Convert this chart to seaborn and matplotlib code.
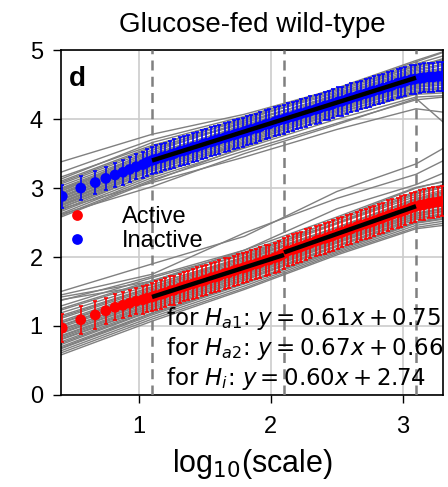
import numpy as np
import pandas as pd
import matplotlib
matplotlib.use("Agg")
import matplotlib.pyplot as plt
import seaborn as sns

# ---- mean curves (log10 scale vs. log10 fluctuation) ----
log_scale = [
    0.42, 0.56, 0.67, 0.75, 0.82, 0.88, 0.93, 0.98, 1.03, 1.06,
    1.10, 1.13, 1.17, 1.20, 1.24, 1.27, 1.31, 1.34, 1.37, 1.41,
    1.44, 1.48, 1.51, 1.55, 1.58, 1.61, 1.65, 1.68, 1.72, 1.75,
    1.79, 1.82, 1.85, 1.89, 1.92, 1.96, 1.99, 2.03, 2.06, 2.10,
    2.13, 2.17, 2.20, 2.23, 2.27, 2.30, 2.34, 2.37, 2.41, 2.44,
    2.47, 2.51, 2.54, 2.58, 2.61, 2.65, 2.68, 2.72, 2.75, 2.78,
    2.82, 2.85, 2.89, 2.92, 2.96, 2.99, 3.02, 3.06, 3.09, 3.13,
    3.16, 3.20, 3.23, 3.27, 3.30,
]

active_mean = [
    0.97, 1.09, 1.16, 1.22, 1.27, 1.30, 1.33, 1.36, 1.38, 1.40,
    1.42, 1.44, 1.46, 1.48, 1.51, 1.52, 1.55, 1.57, 1.59, 1.61,
    1.63, 1.65, 1.67, 1.70, 1.71, 1.73, 1.76, 1.77, 1.80, 1.82,
    1.84, 1.86, 1.88, 1.90, 1.92, 1.95, 1.96, 1.99, 2.01, 2.05,
    2.09, 2.11, 2.13, 2.15, 2.18, 2.20, 2.23, 2.25, 2.27, 2.29,
    2.31, 2.34, 2.36, 2.39, 2.41, 2.44, 2.46, 2.48, 2.50, 2.52,
    2.55, 2.57, 2.60, 2.62, 2.64, 2.66, 2.68, 2.71, 2.73, 2.75,
    2.76, 2.78, 2.79, 2.80, 2.81,
]
active_err = [
    0.20, 0.20, 0.20, 0.19, 0.19, 0.19, 0.19, 0.19, 0.20, 0.20,
    0.20, 0.21, 0.21, 0.21, 0.21, 0.21, 0.21, 0.21, 0.21, 0.22,
    0.22, 0.22, 0.22, 0.22, 0.22, 0.22, 0.22, 0.22, 0.22, 0.22,
    0.22, 0.22, 0.22, 0.22, 0.22, 0.22, 0.22, 0.22, 0.22, 0.22,
    0.22, 0.22, 0.22, 0.22, 0.22, 0.22, 0.22, 0.22, 0.22, 0.22,
    0.22, 0.22, 0.22, 0.22, 0.22, 0.22, 0.22, 0.22, 0.22, 0.22,
    0.22, 0.22, 0.22, 0.22, 0.22, 0.22, 0.22, 0.22, 0.22, 0.22,
    0.22, 0.22, 0.22, 0.22, 0.22,
]

inactive_mean = [
    2.88, 3.00, 3.08, 3.14, 3.19, 3.23, 3.27, 3.31, 3.34, 3.37,
    3.40, 3.42, 3.44, 3.46, 3.48, 3.50, 3.53, 3.54, 3.56, 3.59,
    3.60, 3.63, 3.65, 3.67, 3.69, 3.71, 3.73, 3.75, 3.77, 3.79,
    3.81, 3.83, 3.85, 3.87, 3.89, 3.92, 3.93, 3.96, 3.98, 4.00,
    4.02, 4.04, 4.06, 4.08, 4.10, 4.12, 4.14, 4.16, 4.19, 4.20,
    4.22, 4.25, 4.26, 4.29, 4.31, 4.33, 4.35, 4.37, 4.39, 4.41,
    4.43, 4.45, 4.47, 4.49, 4.52, 4.53, 4.55, 4.57, 4.58, 4.59,
    4.60, 4.61, 4.61, 4.62, 4.62,
]
inactive_err = [
    0.17, 0.17, 0.17, 0.17, 0.17, 0.18, 0.18, 0.18, 0.19, 0.19,
    0.19, 0.20, 0.20, 0.20, 0.20, 0.21, 0.21, 0.21, 0.21, 0.21,
    0.21, 0.21, 0.21, 0.21, 0.21, 0.21, 0.21, 0.21, 0.21, 0.21,
    0.21, 0.21, 0.21, 0.21, 0.21, 0.21, 0.21, 0.21, 0.21, 0.21,
    0.21, 0.21, 0.21, 0.21, 0.21, 0.21, 0.21, 0.21, 0.21, 0.21,
    0.21, 0.21, 0.21, 0.21, 0.21, 0.21, 0.21, 0.21, 0.21, 0.21,
    0.21, 0.21, 0.21, 0.21, 0.21, 0.21, 0.21, 0.21, 0.21, 0.21,
    0.21, 0.21, 0.21, 0.21, 0.21,
]

# ---- individual traces, sampled at a few scales ----
trace_x = [0.41, 1.1, 1.8, 2.5, 3.1, 3.31]

inactive_traces = [
    [3.38, 3.78, 4.07, 4.44, 4.83, 4.97],
    [3.23, 3.70, 4.04, 4.42, 4.80, 4.92],
    [3.16, 3.62, 3.98, 4.44, 4.76, 4.88],
    [3.13, 3.66, 4.01, 4.40, 4.78, 4.86],
    [3.10, 3.60, 4.00, 4.38, 4.74, 4.84],
    [3.08, 3.58, 3.95, 4.35, 4.72, 4.80],
    [3.06, 3.55, 3.94, 4.36, 4.78, 4.82],
    [3.03, 3.52, 3.97, 4.34, 4.70, 4.78],
    [3.00, 3.50, 3.90, 4.34, 4.68, 4.74],
    [2.99, 3.44, 3.89, 4.28, 4.65, 4.70],
    [2.98, 3.48, 3.92, 4.30, 4.66, 4.72],
    [2.96, 3.45, 3.87, 4.32, 4.63, 4.70],
    [2.95, 3.55, 4.02, 4.45, 4.85, 4.98],
    [2.93, 3.46, 3.84, 4.28, 4.64, 4.66],
    [2.92, 3.39, 3.85, 4.27, 4.57, 4.66],
    [2.91, 3.42, 3.86, 4.26, 4.60, 4.64],
    [2.90, 3.47, 3.88, 4.30, 4.62, 4.68],
    [2.88, 3.41, 3.81, 4.24, 4.59, 4.64],
    [2.87, 3.37, 3.80, 4.25, 4.61, 4.63],
    [2.86, 3.38, 3.82, 4.21, 4.56, 4.62],
    [2.84, 3.35, 3.78, 4.22, 4.54, 4.59],
    [2.83, 3.33, 3.79, 4.20, 4.55, 4.58],
    [2.82, 3.36, 3.76, 4.18, 4.52, 4.57],
    [2.80, 3.32, 3.77, 4.16, 4.50, 4.54],
    [2.79, 3.31, 3.75, 4.19, 4.51, 4.56],
    [2.78, 3.30, 3.72, 4.16, 4.48, 4.52],
    [2.76, 3.28, 3.74, 4.12, 4.46, 4.50],
    [2.75, 3.27, 3.70, 4.14, 4.47, 4.49],
    [2.74, 3.25, 3.68, 4.12, 4.44, 4.46],
    [2.72, 3.20, 3.66, 4.10, 4.40, 4.40],
    [2.71, 3.25, 3.66, 4.08, 4.42, 4.44],
    [2.70, 3.08, 3.45, 3.85, 4.15, 4.10],
    [2.68, 3.22, 3.64, 4.04, 4.38, 4.42],
    [2.66, 3.18, 3.62, 4.06, 4.36, 4.38],
    [2.63, 3.15, 3.58, 4.00, 4.32, 4.34],
    [2.62, 3.02, 3.50, 3.92, 4.30, 3.95],
    [2.60, 3.12, 3.54, 3.94, 4.28, 4.32],
    [2.58, 3.10, 3.60, 4.05, 4.40, 4.45],
]

active_traces = [
    [1.50, 1.90, 2.30, 2.95, 3.35, 3.58],
    [1.45, 1.75, 2.35, 2.85, 3.20, 3.40],
    [1.42, 1.65, 2.10, 2.70, 3.05, 3.22],
    [1.38, 1.60, 2.00, 2.55, 3.00, 3.10],
    [1.37, 1.72, 2.10, 2.58, 3.01, 3.09],
    [1.29, 1.70, 2.07, 2.53, 2.95, 3.05],
    [1.25, 1.66, 2.03, 2.50, 2.93, 3.03],
    [1.23, 1.64, 2.05, 2.49, 2.91, 3.01],
    [1.19, 1.60, 2.00, 2.48, 2.88, 2.97],
    [1.15, 1.57, 1.99, 2.43, 2.85, 2.95],
    [1.13, 1.56, 1.97, 2.42, 2.84, 2.93],
    [1.11, 1.54, 1.95, 2.43, 2.83, 2.91],
    [1.07, 1.52, 1.93, 2.39, 2.81, 2.89],
    [1.05, 1.50, 1.91, 2.37, 2.80, 2.88],
    [1.04, 1.48, 1.90, 2.38, 2.78, 2.87],
    [1.01, 1.46, 1.88, 2.35, 2.76, 2.84],
    [1.00, 1.45, 1.87, 2.36, 2.77, 2.85],
    [0.98, 1.43, 1.85, 2.33, 2.74, 2.81],
    [0.95, 1.40, 1.82, 2.31, 2.71, 2.79],
    [0.94, 1.41, 1.83, 2.30, 2.72, 2.78],
    [0.92, 1.38, 1.80, 2.28, 2.69, 2.76],
    [0.90, 1.36, 1.78, 2.27, 2.68, 2.75],
    [0.89, 1.35, 1.79, 2.26, 2.67, 2.74],
    [0.86, 1.33, 1.76, 2.25, 2.64, 2.71],
    [0.85, 1.31, 1.75, 2.23, 2.63, 2.70],
    [0.83, 1.30, 1.74, 2.22, 2.62, 2.69],
    [0.81, 1.28, 1.72, 2.21, 2.60, 2.67],
    [0.80, 1.27, 1.71, 2.20, 2.59, 2.66],
    [0.77, 1.25, 1.69, 2.17, 2.57, 2.63],
    [0.75, 1.23, 1.67, 2.16, 2.56, 2.62],
    [0.73, 1.22, 1.66, 2.15, 2.54, 2.61],
    [0.70, 1.19, 1.63, 2.12, 2.51, 2.58],
    [0.68, 1.18, 1.62, 2.11, 2.50, 2.56],
    [0.67, 1.16, 1.61, 2.09, 2.49, 2.55],
    [0.64, 1.13, 1.58, 2.07, 2.46, 2.52],
    [0.61, 1.10, 1.55, 2.05, 2.43, 2.49],
    [0.58, 1.07, 1.53, 2.03, 2.41, 2.46],
]

# ---- regime boundaries and linear fits ----
boundaries = [1.1, 2.1, 3.1]
fit_names = ["a1", "a2", "i"]
fit_slopes = [0.61, 0.67, 0.60]
fit_intercepts = [0.75, 0.66, 2.74]
fit_ranges = [(1.1, 2.1), (2.1, 3.1), (1.1, 3.1)]

states = ["Active", "Inactive"]
state_colors = {"Active": "red", "Inactive": "blue"}

# ---- style ----
sns.set_theme(style="white")
plt.rcParams["font.family"] = ["Liberation Sans", "DejaVu Sans"]
plt.rcParams["mathtext.fontset"] = "dejavusans"
for key in ("text.color", "axes.labelcolor", "xtick.color", "ytick.color"):
    plt.rcParams[key] = "black"

fig = plt.figure(figsize=(4.48, 4.87), dpi=100)
ax = fig.add_axes([0.136, 0.189, 0.853, 0.708])

ax.grid(True, color="#cccccc", linewidth=1.2)
ax.set_axisbelow(True)

# traces
rows = []
tid = 0
for group in (active_traces, inactive_traces):
    for tr in group:
        for xv, yv in zip(trace_x, tr):
            rows.append({"x": xv, "y": yv, "trace": tid})
        tid += 1
traces_df = pd.DataFrame(rows)
sns.lineplot(data=traces_df, x="x", y="y", units="trace", estimator=None,
             color="gray", linewidth=1.0, legend=False, ax=ax, zorder=2)

# regime boundaries
for b in boundaries:
    ax.axvline(b, color="gray", linestyle=(0, (4, 2.5)), linewidth=1.8, zorder=3)

# means with error bars
pts = pd.DataFrame({
    "x": log_scale * 2,
    "y": active_mean + inactive_mean,
    "err": active_err + inactive_err,
    "state": ["Active"] * len(log_scale) + ["Inactive"] * len(log_scale),
})
for st in states:
    sub = pts[pts["state"] == st]
    ax.errorbar(sub["x"], sub["y"], yerr=sub["err"], fmt="none",
                ecolor=state_colors[st], elinewidth=1.2, capsize=1.6,
                capthick=1.2, zorder=4)
sns.scatterplot(data=pts, x="x", y="y", hue="state", hue_order=states,
                palette=state_colors, s=60, edgecolor="none", ax=ax, zorder=5)

# fitted lines
for (x0, x1), k, c in zip(fit_ranges, fit_slopes, fit_intercepts):
    xs = np.array([x0, x1])
    ax.plot(xs, k * xs + c, color="black", linewidth=3.2, zorder=6,
            solid_capstyle="butt")

# fit equations
text_y = [1.01, 0.58, 0.145]
for name, k, c, ty in zip(fit_names, fit_slopes, fit_intercepts, text_y):
    ax.text(1.207, ty, f"for $H_{{{name}}}$: $y = {k:.2f}x + {c:.2f}$",
            fontsize=16.5, family="DejaVu Sans", va="baseline", ha="left",
            clip_on=True, zorder=7)

ax.text(0.02, 0.955, "d", transform=ax.transAxes, fontsize=20,
        fontweight="bold", va="top", ha="left")

ax.set_xlim(0.41, 3.305)
ax.set_ylim(0, 5)
ax.set_xticks([1, 2, 3])
ax.set_yticks([0, 1, 2, 3, 4, 5])
ax.tick_params(axis="both", which="major", direction="out", length=6,
               width=1.0, labelsize=17, color="black",
               labelcolor="black", bottom=True, left=True)
ax.tick_params(axis="x", pad=9.5)
ax.tick_params(axis="y", pad=7)
for sp in ax.spines.values():
    sp.set_color("black")
    sp.set_linewidth(1.2)

ax.set_xlabel("log$_{10}$(scale)", fontsize=22, labelpad=6)
ax.set_ylabel("")
ax.set_title("Glucose-fed wild-type", fontsize=20, pad=13)

leg = ax.legend(frameon=False, loc="center left", bbox_to_anchor=(0.0, 0.481),
                fontsize=17, borderaxespad=0.0, borderpad=0.2,
                handlelength=1.0, handletextpad=1.4, labelspacing=0.1,
                markerscale=1.0)

fig.savefig("out.png", dpi=100)
